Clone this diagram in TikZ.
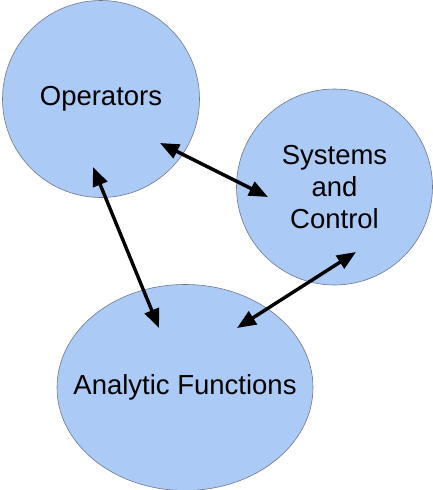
\documentclass[tikz,border=0pt]{standalone}
\usepackage{fontspec}
\setmainfont{Liberation Sans}
\usetikzlibrary{shapes.geometric,arrows.meta}
\definecolor{bubblefill}{RGB}{171,202,246}
\definecolor{bubbleline}{RGB}{110,120,140}

\begin{document}
\begin{tikzpicture}[x=1pt,y=-1pt,
		bubble/.style={draw=bubbleline, line width=0.6pt, fill=bubblefill, align=center,
			font=\fontsize{27.5}{32}\selectfont, inner sep=0pt},
		link/.style={{Triangle[length=19pt,width=15pt]}-{Triangle[length=19pt,width=15pt]}, line width=3.4pt, black}]
			\useasboundingbox (0,0) rectangle (433,490);
			\node[bubble, circle, minimum size=197pt] (ops) at (101,99) {Operators};
			\node[bubble, circle, minimum size=196pt] (sys) at (334.5,187) {Systems\\and\\Control};
			\node[bubble, ellipse, minimum width=256pt, minimum height=206pt] (ana) at (185,387.5) {\makebox[0pt]{Analytic Functions}};
			% end points of the links
			\coordinate (ops-a) at (160,143);
			\coordinate (ops-b) at (93,167);
			\coordinate (sys-a) at (268,197);
			\coordinate (sys-b) at (356,252);
			\coordinate (ana-a) at (159,328);
			\coordinate (ana-b) at (237,328);
			\path[link]
			(ops-a) edge (sys-a)
			(ops-b) edge (ana-a)
			(sys-b) edge (ana-b);
		\end{tikzpicture}
\end{document}
